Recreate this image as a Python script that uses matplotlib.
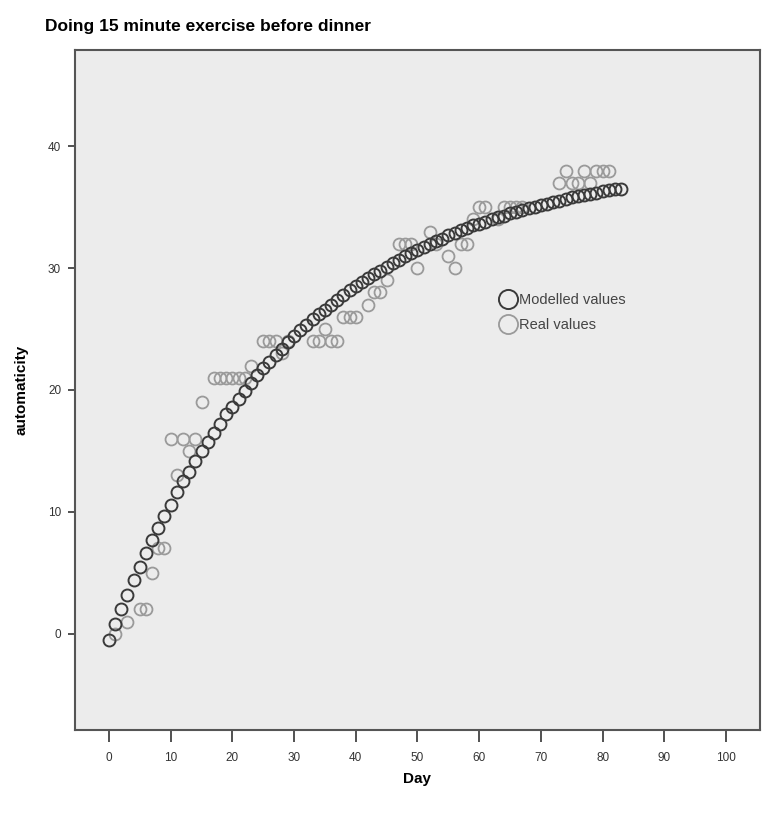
import matplotlib
matplotlib.use("Agg")
import matplotlib.pyplot as plt
import numpy as np

plt.rcParams['font.family'] = ['Liberation Sans', 'DejaVu Sans']

# modelled curve (one value per day, 0..83)
model_days = list(range(84))
model_vals = [-0.5, 0.8, 2.0, 3.2, 4.4, 5.5, 6.6, 7.7, 8.7, 9.7,
              10.6, 11.6, 12.5, 13.3, 14.2, 15.0, 15.7, 16.5, 17.2, 18.0,
              18.6, 19.3, 19.9, 20.6, 21.2, 21.8, 22.3, 22.9, 23.4, 23.9,
              24.4, 24.9, 25.3, 25.8, 26.2, 26.6, 27.0, 27.4, 27.8, 28.2,
              28.5, 28.9, 29.2, 29.5, 29.8, 30.1, 30.4, 30.7, 31.0, 31.2,
              31.5, 31.7, 32.0, 32.2, 32.4, 32.7, 32.9, 33.1, 33.3, 33.5,
              33.6, 33.8, 34.0, 34.2, 34.3, 34.5, 34.6, 34.8, 34.9, 35.0,
              35.2, 35.3, 35.4, 35.5, 35.7, 35.8, 35.9, 36.0, 36.1, 36.2,
              36.3, 36.4, 36.5, 36.5]

# observed values
real_days = [1, 3, 5, 6, 7, 8, 9, 10, 11, 12, 13, 14, 15, 17, 18, 19, 20, 21, 22,
             23, 25, 26, 27, 28, 29, 33, 34, 35, 36, 37, 38, 39, 40, 42, 43, 44, 45,
             47, 48, 49, 50, 52, 53, 55, 56, 57, 58, 59, 60, 61, 63, 64, 65, 66, 67,
             73, 74, 75, 76, 77, 78, 79, 80, 81]
real_vals = [0, 1, 2, 2, 5, 7, 7, 16, 13, 16, 15, 16, 19, 21, 21, 21, 21, 21, 21,
             22, 24, 24, 24, 23, 24, 24, 24, 25, 24, 24, 26, 26, 26, 27, 28, 28, 29,
             32, 32, 32, 30, 33, 32, 31, 30, 32, 32, 34, 35, 35, 34, 35, 35, 35, 35,
             37, 38, 37, 37, 38, 37, 38, 38, 38]

fig = plt.figure(figsize=(7.71, 8.15), dpi=100)
ax = fig.add_axes([0.0973, 0.1043, 0.8884, 0.8344])
ax.set_facecolor('#ececec')

ax.plot(real_days, real_vals, 'o', ls='none', ms=8.6, mfc='none', mec='#9a9a9a',
        mew=1.3, label='Real values', zorder=2)
ax.plot(model_days, model_vals, 'o', ls='none', ms=8.6, mfc='none', mec='#3a3a3a',
        mew=1.4, label='Modelled values', zorder=3)

ax.set_xlim(-5.5, 105.5)
ax.set_ylim(-7.9, 47.9)
ax.set_xticks(np.arange(0, 101, 10))
ax.set_yticks(np.arange(0, 41, 10))
ax.tick_params(axis='both', direction='out', labelsize=8.5, colors='#333333')
ax.tick_params(axis='x', length=8.5, width=1.2, pad=7)
ax.tick_params(axis='y', length=5, width=1.2, pad=5)
for s in ax.spines.values():
    s.set_color('#555555')
    s.set_linewidth(1.5)

ax.set_xlabel('Day', fontsize=11, fontweight='bold', labelpad=6)
ax.set_ylabel('automaticity', fontsize=11, fontweight='bold', labelpad=14)
fig.text(0.058, 0.968, 'Doing 15 minute exercise before dinner', fontsize=12.5,
         fontweight='bold', va='center', ha='left')

h, l = ax.get_legend_handles_labels()
leg = ax.legend(h[::-1], l[::-1], loc='upper left', bbox_to_anchor=(0.6, 0.662),
                frameon=False, fontsize=10.5, handletextpad=0.15,
                labelspacing=0.75, markerscale=1.6, handlelength=1.2)
for t in leg.get_texts():
    t.set_color('#444444')

fig.savefig('out.png', dpi=100)
